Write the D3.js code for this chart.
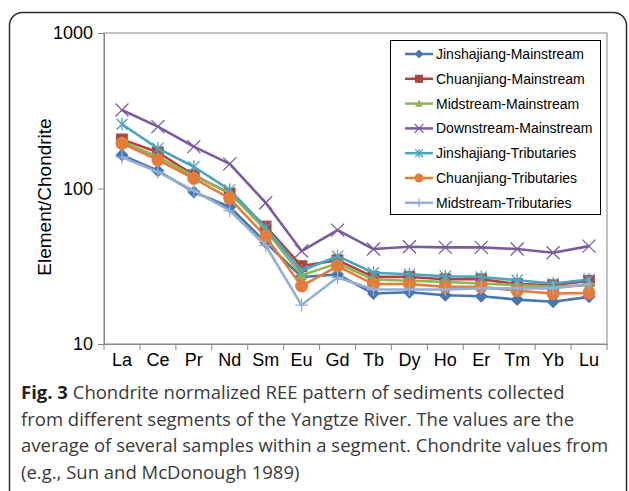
<!DOCTYPE html>
<html>
<head>
<meta charset="utf-8">
<script src="https://cdn.jsdelivr.net/npm/d3@7"></script>
<style>
  body { margin: 0; background: #fff; }
  svg { display: block; }
</style>
</head>
<body>
<svg id="chart" width="629" height="491"></svg>
<script>
// Rare earth elements, in order of atomic number
const elements = ["La", "Ce", "Pr", "Nd", "Sm", "Eu", "Gd", "Tb", "Dy", "Ho", "Er", "Tm", "Yb", "Lu"];

// Chondrite-normalized averages per river segment
const jinshajiangMainstream = [164, 130, 95, 76, 45, 27, 28, 21.1, 21.5, 20.6, 20.3, 19.3, 18.7, 20.1];
const chuanjiangMainstream  = [207, 171, 122, 93, 57, 31.7, 34.6, 27.0, 27.0, 26.1, 26.1, 24.3, 23.9, 25.5];
const midstreamMainstream   = [200, 160, 120, 94, 54, 27.7, 33, 26.0, 25.5, 25.1, 24.5, 23.9, 23.3, 23.9];
const downstreamMainstream  = [320, 250, 186, 144, 81, 39.6, 54, 40.8, 42.2, 41.8, 41.8, 40.8, 38.6, 42.6];
const jinshajiangTributaries = [259, 181, 138, 98, 56, 29.6, 36.7, 28.7, 28.1, 27.3, 27.0, 25.7, 24.5, 26.0];
const chuanjiangTributaries = [195, 153, 116, 86.5, 49, 23.6, 31.7, 24.3, 24.3, 23.3, 23.3, 22.0, 21.1, 21.3];
const midstreamTributaries  = [159, 128, 97, 72, 43, 17.8, 26.8, 22.4, 22.4, 22.4, 22.8, 22.8, 22.8, 24.3];

const seriesNames = [
  "Jinshajiang-Mainstream", "Chuanjiang-Mainstream", "Midstream-Mainstream",
  "Downstream-Mainstream", "Jinshajiang-Tributaries", "Chuanjiang-Tributaries",
  "Midstream-Tributaries"
];
const seriesValues = [
  jinshajiangMainstream, chuanjiangMainstream, midstreamMainstream,
  downstreamMainstream, jinshajiangTributaries, chuanjiangTributaries,
  midstreamTributaries
];
const yTickValues = [10, 100, 1000];

const captionBold = "Fig. 3";
const captionLines = [
  " Chondrite normalized REE pattern of sediments collected",
  "from different segments of the Yangtze River. The values are the",
  "average of several samples within a segment. Chondrite values from",
  "(e.g., Sun and McDonough 1989)"
];

// Styling per series: colour and marker shape
const styles = [
  { color: "#4a76ae", marker: "diamond" },
  { color: "#b0423f", marker: "square" },
  { color: "#93b356", marker: "triangle" },
  { color: "#7a5b9d", marker: "cross" },
  { color: "#4aa5bd", marker: "star" },
  { color: "#e27d3b", marker: "circle" },
  { color: "#93afd6", marker: "plus" }
];

const svg = d3.select("#chart");
const plot = { left: 104, right: 607, top: 33, bottom: 344 };

const x = d3.scaleBand().domain(elements).range([plot.left, plot.right]).padding(0);
const y = d3.scaleLog().domain([10, 1000]).range([plot.bottom, plot.top]);
const cx = d => x(d) + x.bandwidth() / 2;

// Outer rounded frame
svg.append("rect")
  .attr("x", 9.5).attr("y", 12.5)
  .attr("width", 617).attr("height", 600)
  .attr("rx", 13).attr("ry", 13)
  .attr("fill", "none").attr("stroke", "#2b2b2b").attr("stroke-width", 1.5);

// Plot area border
svg.append("rect")
  .attr("x", plot.left).attr("y", plot.top)
  .attr("width", plot.right - plot.left).attr("height", plot.bottom - plot.top)
  .attr("fill", "none").attr("stroke", "#868686").attr("stroke-width", 1);

// Y axis
const yAxis = d3.axisLeft(y).tickValues(yTickValues).tickFormat(d3.format("d")).tickSizeOuter(0).tickSize(6).tickPadding(5);
const gy = svg.append("g").attr("transform", `translate(${plot.left},0)`).call(yAxis);
gy.select(".domain").attr("stroke", "#868686");
gy.selectAll(".tick line").attr("stroke", "#868686");
gy.selectAll(".tick text").attr("font-family", "Liberation Sans, Arial, sans-serif")
  .attr("font-size", 18).attr("fill", "#000");

// X axis: labels at category centres, ticks on category boundaries
const xAxis = d3.axisBottom(x).tickSize(0).tickPadding(9).tickSizeOuter(0);
const gx = svg.append("g").attr("transform", `translate(0,${plot.bottom})`).call(xAxis);
gx.select(".domain").attr("stroke", "#868686");
gx.selectAll(".tick text").attr("font-family", "Liberation Sans, Arial, sans-serif")
  .attr("font-size", 18).attr("fill", "#000");
const boundaries = elements.map(d => x(d)).concat([x(elements[elements.length - 1]) + x.bandwidth()]);
svg.append("g").selectAll("line").data(boundaries).join("line")
  .attr("x1", d => d).attr("x2", d => d)
  .attr("y1", plot.bottom).attr("y2", plot.bottom + 6)
  .attr("stroke", "#868686");

// Y axis title
svg.append("text")
  .attr("transform", "translate(51,197) rotate(-90)")
  .attr("text-anchor", "middle")
  .attr("font-family", "Liberation Sans, Arial, sans-serif")
  .attr("font-size", 19).attr("fill", "#000")
  .text("Element/Chondrite");

// Marker drawing
function drawMarker(g, type, color, s) {
  const thin = 1.3;
  switch (type) {
    case "diamond":
      g.append("path").attr("d", `M0,${-s}L${s},0L0,${s}L${-s},0Z`).attr("fill", color);
      break;
    case "square":
      g.append("rect").attr("x", -s * 0.9).attr("y", -s * 0.9).attr("width", s * 1.8).attr("height", s * 1.8).attr("fill", color);
      break;
    case "triangle":
      g.append("path").attr("d", `M0,${-s * 0.9}L${s * 0.85},${s * 0.7}L${-s * 0.85},${s * 0.7}Z`).attr("fill", color);
      break;
    case "cross":
      g.append("path").attr("d", `M${-s},${-s}L${s},${s}M${-s},${s}L${s},${-s}`).attr("stroke", color).attr("stroke-width", thin).attr("fill", "none");
      break;
    case "star":
      g.append("path").attr("d", `M${-s * 0.85},${-s * 0.85}L${s * 0.85},${s * 0.85}M${-s * 0.85},${s * 0.85}L${s * 0.85},${-s * 0.85}M0,${-s}L0,${s}`)
        .attr("stroke", color).attr("stroke-width", thin).attr("fill", "none");
      break;
    case "circle":
      g.append("circle").attr("r", s).attr("fill", color);
      break;
    case "plus":
      g.append("path").attr("d", `M${-s},0L${s},0M0,${-s}L0,${s}`).attr("stroke", color).attr("stroke-width", thin).attr("fill", "none");
      break;
  }
}

const line = d3.line().x(d => cx(d.el)).y(d => y(d.v));

seriesValues.forEach((vals, i) => {
  const st = styles[i];
  const pts = vals.map((v, j) => ({ el: elements[j], v }));
  const g = svg.append("g");
  g.append("path").datum(pts).attr("d", line)
    .attr("fill", "none").attr("stroke", st.color).attr("stroke-width", 2.6).attr("stroke-linejoin", "round");
  g.selectAll("g.m").data(pts).join("g").attr("class", "m")
    .attr("transform", d => `translate(${cx(d.el)},${y(d.v)})`)
    .each(function () { drawMarker(d3.select(this), st.marker, st.color, 6.5); });
});

// Legend
const legend = svg.append("g");
legend.append("rect").attr("x", 390.5).attr("y", 40.5).attr("width", 210).attr("height", 174)
  .attr("fill", "#fff").attr("stroke", "#000").attr("stroke-width", 1);
seriesNames.forEach((name, i) => {
  const ly = 54 + i * 24.8;
  const st = styles[i];
  legend.append("line").attr("x1", 405).attr("x2", 433).attr("y1", ly).attr("y2", ly)
    .attr("stroke", st.color).attr("stroke-width", 2.5);
  const mg = legend.append("g").attr("transform", `translate(419,${ly})`);
  drawMarker(mg, st.marker, st.color, 4.5);
  legend.append("text").attr("x", 436).attr("y", ly).attr("dy", "0.35em")
    .attr("font-family", "Liberation Sans, Arial, sans-serif").attr("font-size", 14).attr("fill", "#000")
    .text(name);
});

// Caption
const cap = svg.append("text")
  .attr("font-family", "Open Sans, sans-serif").attr("font-size", 18.5).attr("fill", "#3a3a3a");
captionLines.forEach((txt, i) => {
  const t = cap.append("tspan").attr("x", 21).attr("y", 399 + i * 26.7);
  if (i === 0) {
    t.append("tspan").attr("font-weight", "bold").attr("fill", "#222").text(captionBold);
    t.append("tspan").text(txt);
  } else {
    t.text(txt);
  }
});
</script>
</body>
</html>
